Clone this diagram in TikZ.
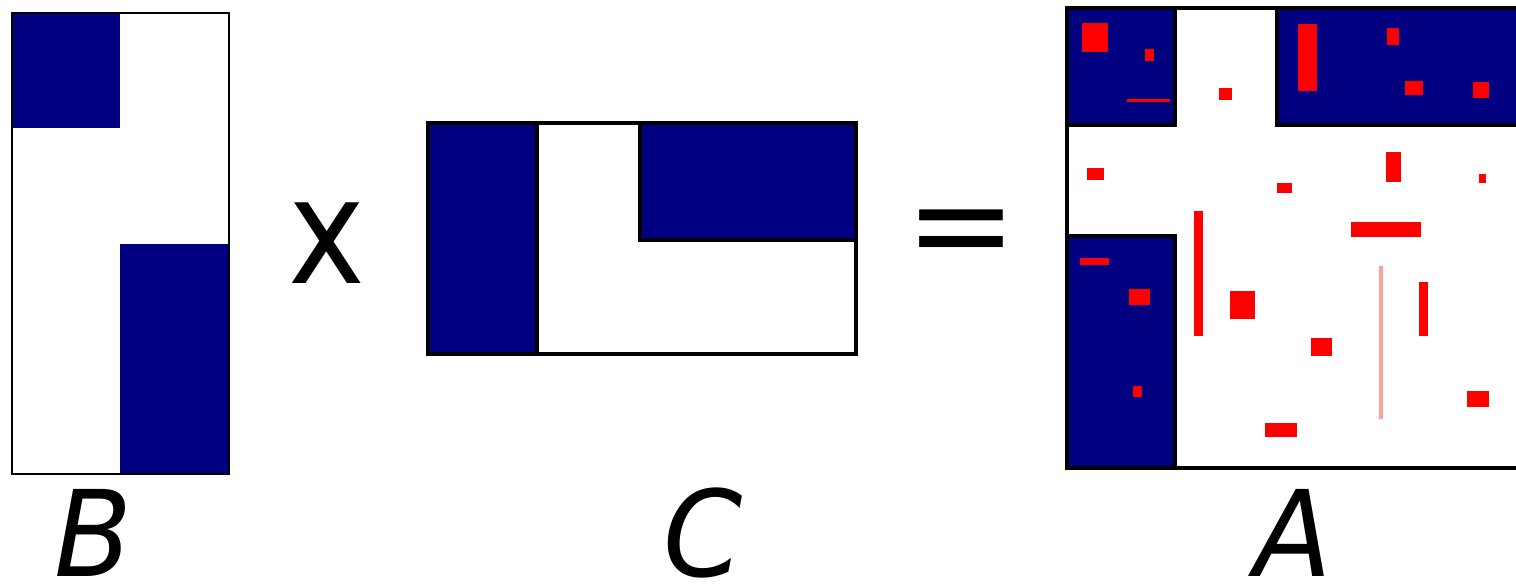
\documentclass[tikz,border=0pt]{standalone}
\usepackage{fontspec}
\setsansfont{DejaVu Sans}
\usetikzlibrary{positioning}
\definecolor{mtblue}{RGB}{0,0,128}
\definecolor{mtred}{RGB}{255,0,0}
\definecolor{mtpink}{RGB}{255,160,160}

\begin{document}
\begin{tikzpicture}[
  x=0.02cm, y=-0.02cm,
  blk/.style={fill=mtblue},
  frameB/.style={draw=black, line width=1.7pt},
  frame/.style={draw=black, line width=2.6pt},
  nz/.style={fill=mtred},
  lbl/.style={font=\fontsize{68}{68}\selectfont\sffamily\itshape, inner sep=0pt, anchor=base},
  op/.style={font=\sffamily, inner sep=0pt}
]
\useasboundingbox (0,0) rectangle (1516,585);

% B
\fill[blk] (12,13) rectangle (120,128);
\fill[blk] (120,244) rectangle (229,474);
\draw[frameB] (12,13) rectangle (229,474);

% x
\node[op, font=\fontsize{84}{84}\selectfont\sffamily, anchor=base] (times) at (327,283) {\scalebox{0.88}[1]{x}};

% C
\fill[blk] (428,123) rectangle (537,354);
\fill[blk] (640,123) rectangle (856,240);
\draw[frame] (537,123) -- (537,354);
\draw[frame] (640,123) |- (856,240);
\draw[frame] (428,123) rectangle (856,354);

% =
\node[op, font=\fontsize{76}{76}\selectfont\sffamily] (eq) at (961,240) {=};

% A
\fill[blk] (1067,8) rectangle (1175,125);
\fill[blk] (1277,8) rectangle (1520,125);
\fill[blk] (1067,236) rectangle (1175,468);
\foreach \xa/\ya/\xb/\yb in {1082/23/1108/52, 1145/49/1154/61, 1127/99/1170/102,
  1219/88/1232/100, 1298/24/1317/91, 1387/28/1399/45, 1405/81/1423/95,
  1473/82/1489/98, 1087/168/1104/180, 1277/183/1292/193, 1386/152/1401/182,
  1479/174/1486/183, 1194/211/1203/336, 1351/222/1421/237, 1080/258/1109/265,
  1129/289/1150/305, 1133/386/1142/397, 1230/291/1255/319, 1311/338/1332/356,
  1419/282/1428/336, 1467/391/1489/407, 1265/423/1297/437}
  \fill[nz] (\xa,\ya) rectangle (\xb,\yb);
\fill[mtpink] (1379,266) rectangle (1383,419);
\draw[frame] (1175,8) -- (1175,125) -- (1067,125);
\draw[frame] (1277,8) |- (1520,125);
\draw[frame] (1067,236) -| (1175,468);
\draw[frame] (1067,8) rectangle (1520,468);

% labels
\node[lbl] (labB) at (93,576) {\scalebox{0.95}[1]{B}};
\node[lbl] (labC) at (703,576) {\scalebox{0.95}[1]{C}};
\node[lbl] (labA) at (1293,576) {\scalebox{0.95}[1]{A}};
\end{tikzpicture}
\end{document}
